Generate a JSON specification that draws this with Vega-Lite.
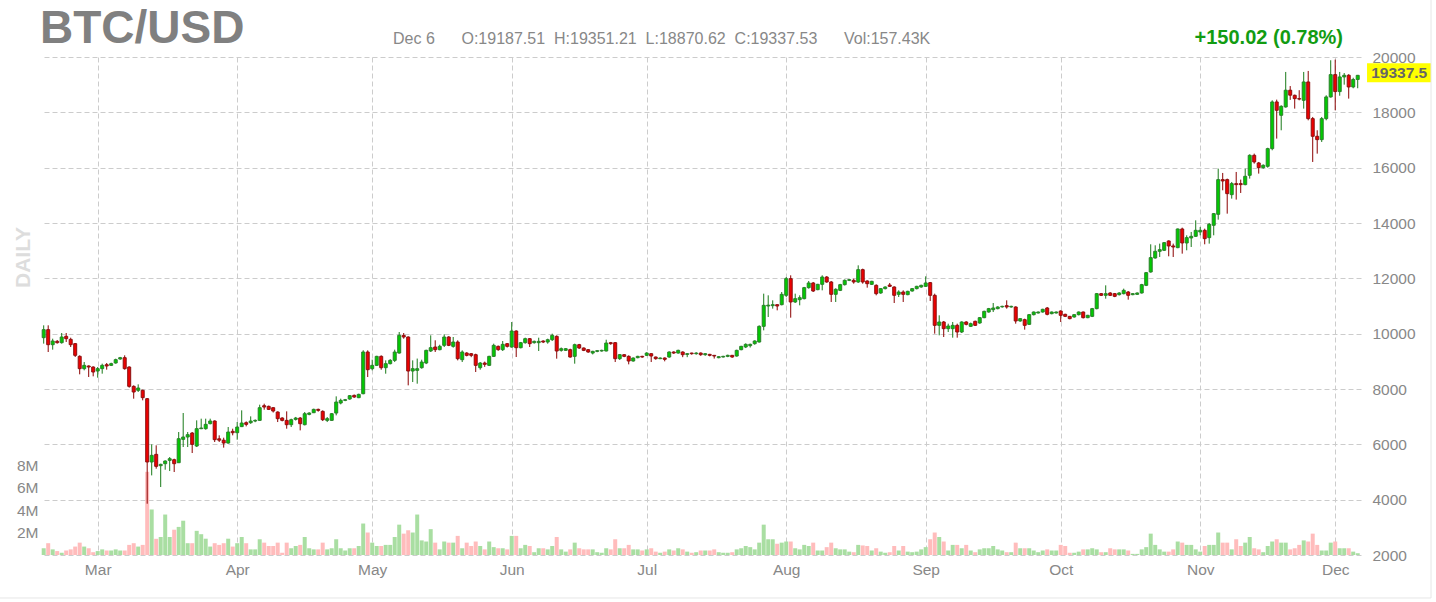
{
"$schema": "https://vega.github.io/schema/vega-lite/v6.json",
"width": 1319, "height": 498,
"autosize": {"type": "none"},
"padding": {"left": 42, "top": 57, "right": 75, "bottom": 47},
"background": "white",
"config": {"view": {"stroke": null}, "font": "Liberation Sans",
  "axis": {"domain": false, "ticks": false, "labelColor": "#888888", "labelFontSize": 15.5, "labelFont": "Liberation Sans", "gridColor": "#cccccc", "gridDash": [5, 3], "gridWidth": 1}},
"data": {"values": [
{"d":"2020-02-18","o":9855,"h":10301,"l":9639,"c":10145,"v":0.6},
{"d":"2020-02-19","o":10145,"h":10301,"l":9337,"c":9602,"v":1.05},
{"d":"2020-02-20","o":9602,"h":9819,"l":9422,"c":9735,"v":0.5},
{"d":"2020-02-21","o":9723,"h":9770,"l":9640,"c":9675,"v":0.35},
{"d":"2020-02-22","o":9675,"h":10024,"l":9639,"c":9880,"v":0.2},
{"d":"2020-02-23","o":9904,"h":10024,"l":9699,"c":9819,"v":0.4},
{"d":"2020-02-24","o":9795,"h":9855,"l":9518,"c":9602,"v":0.5},
{"d":"2020-02-25","o":9639,"h":9663,"l":9157,"c":9217,"v":0.75},
{"d":"2020-02-26","o":9181,"h":9217,"l":8530,"c":8735,"v":1.1},
{"d":"2020-02-27","o":8735,"h":8976,"l":8675,"c":8855,"v":0.75},
{"d":"2020-02-28","o":8831,"h":8855,"l":8434,"c":8795,"v":0.6},
{"d":"2020-02-29","o":8795,"h":8819,"l":8458,"c":8614,"v":0.25},
{"d":"2020-03-01","o":8650,"h":8795,"l":8410,"c":8735,"v":0.35},
{"d":"2020-03-02","o":8735,"h":8916,"l":8554,"c":8855,"v":0.5},
{"d":"2020-03-03","o":8879,"h":8940,"l":8699,"c":8831,"v":0.4},
{"d":"2020-03-04","o":8855,"h":8950,"l":8830,"c":8916,"v":0.4},
{"d":"2020-03-05","o":8940,"h":9096,"l":8916,"c":9060,"v":0.5},
{"d":"2020-03-06","o":9084,"h":9160,"l":9060,"c":9132,"v":0.4},
{"d":"2020-03-07","o":9132,"h":9217,"l":8699,"c":8735,"v":0.4},
{"d":"2020-03-08","o":8795,"h":8819,"l":8048,"c":8096,"v":0.9},
{"d":"2020-03-09","o":8096,"h":8132,"l":7650,"c":7892,"v":1.05},
{"d":"2020-03-10","o":7952,"h":8168,"l":7892,"c":8036,"v":0.75},
{"d":"2020-03-11","o":7952,"h":7976,"l":7590,"c":7687,"v":0.9},
{"d":"2020-03-12","o":7650,"h":7674,"l":3854,"c":5361,"v":7.4},
{"d":"2020-03-13","o":5361,"h":5999,"l":4878,"c":5602,"v":4.05},
{"d":"2020-03-14","o":5638,"h":5963,"l":5120,"c":5204,"v":1.44},
{"d":"2020-03-15","o":5228,"h":5300,"l":4457,"c":5276,"v":1.6},
{"d":"2020-03-16","o":5300,"h":5421,"l":5083,"c":5397,"v":3.6},
{"d":"2020-03-17","o":5421,"h":5541,"l":5035,"c":5481,"v":1.6},
{"d":"2020-03-18","o":5445,"h":5481,"l":4999,"c":5300,"v":2.25},
{"d":"2020-03-19","o":5336,"h":6445,"l":5336,"c":6204,"v":2.5},
{"d":"2020-03-20","o":6180,"h":7132,"l":5903,"c":6265,"v":3.05},
{"d":"2020-03-21","o":6265,"h":6445,"l":5903,"c":6349,"v":1.05},
{"d":"2020-03-22","o":6409,"h":6445,"l":5686,"c":5999,"v":1.05},
{"d":"2020-03-23","o":5939,"h":6867,"l":5903,"c":6566,"v":2.15},
{"d":"2020-03-24","o":6566,"h":6927,"l":6550,"c":6590,"v":1.85},
{"d":"2020-03-25","o":6566,"h":6927,"l":6530,"c":6722,"v":1.45},
{"d":"2020-03-26","o":6747,"h":6927,"l":6722,"c":6843,"v":0.75},
{"d":"2020-03-27","o":6843,"h":6867,"l":6084,"c":6168,"v":1.05},
{"d":"2020-03-28","o":6200,"h":6325,"l":6084,"c":6150,"v":0.9},
{"d":"2020-03-29","o":6150,"h":6240,"l":5880,"c":6047,"v":1.05},
{"d":"2020-03-30","o":6047,"h":6626,"l":6023,"c":6445,"v":1.45},
{"d":"2020-03-31","o":6470,"h":6566,"l":6325,"c":6420,"v":0.75},
{"d":"2020-04-01","o":6420,"h":6806,"l":6167,"c":6625,"v":1.05},
{"d":"2020-04-02","o":6640,"h":7228,"l":6625,"c":6770,"v":1.6},
{"d":"2020-04-03","o":6782,"h":6830,"l":6650,"c":6722,"v":1.05},
{"d":"2020-04-04","o":6782,"h":7011,"l":6740,"c":6842,"v":0.5},
{"d":"2020-04-05","o":6842,"h":6900,"l":6800,"c":6866,"v":0.5},
{"d":"2020-04-06","o":6866,"h":7433,"l":6850,"c":7324,"v":1.4},
{"d":"2020-04-07","o":7396,"h":7469,"l":7252,"c":7348,"v":1.1},
{"d":"2020-04-08","o":7372,"h":7400,"l":7240,"c":7264,"v":0.8},
{"d":"2020-04-09","o":7324,"h":7340,"l":7150,"c":7204,"v":0.8},
{"d":"2020-04-10","o":7168,"h":7192,"l":6806,"c":6927,"v":1.1},
{"d":"2020-04-11","o":6951,"h":6980,"l":6830,"c":6866,"v":0.2},
{"d":"2020-04-12","o":6866,"h":7192,"l":6565,"c":6710,"v":1.1},
{"d":"2020-04-13","o":6710,"h":6927,"l":6625,"c":6890,"v":0.6},
{"d":"2020-04-14","o":6902,"h":6990,"l":6860,"c":6951,"v":0.8},
{"d":"2020-04-15","o":6951,"h":6987,"l":6505,"c":6746,"v":0.9},
{"d":"2020-04-16","o":6710,"h":7168,"l":6685,"c":7107,"v":1.6},
{"d":"2020-04-17","o":7083,"h":7160,"l":7050,"c":7131,"v":0.6},
{"d":"2020-04-18","o":7143,"h":7288,"l":7131,"c":7264,"v":0.5},
{"d":"2020-04-19","o":7264,"h":7290,"l":7180,"c":7228,"v":0.5},
{"d":"2020-04-20","o":7192,"h":7228,"l":6842,"c":6890,"v":1.1},
{"d":"2020-04-21","o":6866,"h":6987,"l":6806,"c":6927,"v":0.5},
{"d":"2020-04-22","o":6866,"h":7130,"l":6850,"c":7107,"v":0.6},
{"d":"2020-04-23","o":7131,"h":7734,"l":7047,"c":7529,"v":1.4},
{"d":"2020-04-24","o":7493,"h":7650,"l":7445,"c":7589,"v":0.6},
{"d":"2020-04-25","o":7589,"h":7640,"l":7560,"c":7613,"v":0.4},
{"d":"2020-04-26","o":7638,"h":7780,"l":7610,"c":7758,"v":0.6},
{"d":"2020-04-27","o":7770,"h":7800,"l":7680,"c":7710,"v":0.6},
{"d":"2020-04-28","o":7686,"h":7830,"l":7670,"c":7806,"v":0.8},
{"d":"2020-04-29","o":7830,"h":9400,"l":7810,"c":9337,"v":2.8},
{"d":"2020-04-30","o":9337,"h":9397,"l":8433,"c":8698,"v":2.0},
{"d":"2020-05-01","o":8734,"h":9059,"l":8674,"c":8855,"v":1.1},
{"d":"2020-05-02","o":8855,"h":9200,"l":8830,"c":9180,"v":0.8},
{"d":"2020-05-03","o":9180,"h":9216,"l":8698,"c":8770,"v":0.8},
{"d":"2020-05-04","o":8770,"h":9035,"l":8553,"c":8915,"v":0.9},
{"d":"2020-05-05","o":8915,"h":9080,"l":8890,"c":9035,"v":0.9},
{"d":"2020-05-06","o":9035,"h":9421,"l":8975,"c":9337,"v":1.6},
{"d":"2020-05-07","o":9300,"h":10060,"l":9280,"c":9939,"v":2.7},
{"d":"2020-05-08","o":9939,"h":10024,"l":9819,"c":9879,"v":1.9},
{"d":"2020-05-09","o":9879,"h":9903,"l":8132,"c":8650,"v":2.2},
{"d":"2020-05-10","o":8650,"h":9035,"l":8252,"c":8734,"v":2.0},
{"d":"2020-05-11","o":8674,"h":9100,"l":8192,"c":8734,"v":3.6},
{"d":"2020-05-12","o":8770,"h":9059,"l":8734,"c":8975,"v":1.3},
{"d":"2020-05-13","o":8939,"h":9420,"l":8900,"c":9397,"v":1.2},
{"d":"2020-05-14","o":9373,"h":9939,"l":9337,"c":9493,"v":2.3},
{"d":"2020-05-15","o":9517,"h":9760,"l":9337,"c":9421,"v":1.1},
{"d":"2020-05-16","o":9421,"h":9600,"l":9400,"c":9542,"v":0.5},
{"d":"2020-05-17","o":9578,"h":9975,"l":9517,"c":9879,"v":1.2},
{"d":"2020-05-18","o":9879,"h":9910,"l":9550,"c":9578,"v":1.1},
{"d":"2020-05-19","o":9542,"h":9879,"l":9493,"c":9698,"v":1.1},
{"d":"2020-05-20","o":9698,"h":9758,"l":9035,"c":9096,"v":1.7},
{"d":"2020-05-21","o":9059,"h":9397,"l":8975,"c":9337,"v":0.6},
{"d":"2020-05-22","o":9300,"h":9330,"l":9180,"c":9216,"v":1.1},
{"d":"2020-05-23","o":9276,"h":9300,"l":9150,"c":9216,"v":0.8},
{"d":"2020-05-24","o":9240,"h":9276,"l":8614,"c":8855,"v":1.2},
{"d":"2020-05-25","o":8770,"h":8975,"l":8698,"c":8939,"v":0.8},
{"d":"2020-05-26","o":8939,"h":8990,"l":8800,"c":8891,"v":0.5},
{"d":"2020-05-27","o":8855,"h":9200,"l":8830,"c":9180,"v":1.2},
{"d":"2020-05-28","o":9180,"h":9638,"l":9156,"c":9578,"v":0.7},
{"d":"2020-05-29","o":9542,"h":9570,"l":9380,"c":9421,"v":0.6},
{"d":"2020-05-30","o":9421,"h":9734,"l":9373,"c":9614,"v":0.6},
{"d":"2020-05-31","o":9638,"h":9660,"l":9500,"c":9542,"v":0.5},
{"d":"2020-06-01","o":9517,"h":10421,"l":9493,"c":10096,"v":1.7},
{"d":"2020-06-02","o":10096,"h":10120,"l":9156,"c":9493,"v":1.7},
{"d":"2020-06-03","o":9493,"h":9700,"l":9470,"c":9674,"v":0.6},
{"d":"2020-06-04","o":9674,"h":9855,"l":9638,"c":9819,"v":0.9},
{"d":"2020-06-05","o":9819,"h":9843,"l":9517,"c":9638,"v":0.8},
{"d":"2020-06-06","o":9674,"h":9750,"l":9640,"c":9722,"v":0.25},
{"d":"2020-06-07","o":9674,"h":9855,"l":9373,"c":9722,"v":0.6},
{"d":"2020-06-08","o":9734,"h":9760,"l":9660,"c":9698,"v":0.6},
{"d":"2020-06-09","o":9698,"h":9819,"l":9638,"c":9782,"v":0.5},
{"d":"2020-06-10","o":9782,"h":10000,"l":9734,"c":9939,"v":0.8},
{"d":"2020-06-11","o":9903,"h":9939,"l":9096,"c":9373,"v":1.6},
{"d":"2020-06-12","o":9397,"h":9500,"l":9350,"c":9457,"v":0.5},
{"d":"2020-06-13","o":9397,"h":9480,"l":9380,"c":9457,"v":0.3},
{"d":"2020-06-14","o":9421,"h":9457,"l":9132,"c":9156,"v":0.5},
{"d":"2020-06-15","o":9180,"h":9638,"l":8915,"c":9602,"v":1.1},
{"d":"2020-06-16","o":9602,"h":9630,"l":9450,"c":9481,"v":0.6},
{"d":"2020-06-17","o":9481,"h":9500,"l":9370,"c":9397,"v":0.5},
{"d":"2020-06-18","o":9421,"h":9440,"l":9310,"c":9337,"v":0.5},
{"d":"2020-06-19","o":9300,"h":9380,"l":9250,"c":9361,"v":0.5},
{"d":"2020-06-20","o":9361,"h":9400,"l":9330,"c":9385,"v":0.25},
{"d":"2020-06-21","o":9373,"h":9420,"l":9350,"c":9397,"v":0.2},
{"d":"2020-06-22","o":9373,"h":9782,"l":9360,"c":9662,"v":0.6},
{"d":"2020-06-23","o":9674,"h":9700,"l":9600,"c":9638,"v":0.5},
{"d":"2020-06-24","o":9674,"h":9698,"l":8975,"c":9096,"v":1.4},
{"d":"2020-06-25","o":9096,"h":9260,"l":9050,"c":9240,"v":0.6},
{"d":"2020-06-26","o":9240,"h":9260,"l":9150,"c":9180,"v":0.6},
{"d":"2020-06-27","o":9180,"h":9216,"l":8891,"c":9011,"v":0.9},
{"d":"2020-06-28","o":9011,"h":9140,"l":8990,"c":9120,"v":0.5},
{"d":"2020-06-29","o":9132,"h":9200,"l":9110,"c":9180,"v":0.5},
{"d":"2020-06-30","o":9180,"h":9200,"l":9130,"c":9156,"v":0.4},
{"d":"2020-07-01","o":9216,"h":9330,"l":9190,"c":9300,"v":0.5},
{"d":"2020-07-02","o":9276,"h":9290,"l":8975,"c":9192,"v":0.6},
{"d":"2020-07-03","o":9156,"h":9170,"l":9060,"c":9096,"v":0.3},
{"d":"2020-07-04","o":9096,"h":9140,"l":9080,"c":9120,"v":0.2},
{"d":"2020-07-05","o":9120,"h":9140,"l":9000,"c":9072,"v":0.3},
{"d":"2020-07-06","o":9156,"h":9360,"l":9130,"c":9337,"v":0.5},
{"d":"2020-07-07","o":9337,"h":9360,"l":9270,"c":9300,"v":0.4},
{"d":"2020-07-08","o":9300,"h":9420,"l":9280,"c":9397,"v":0.6},
{"d":"2020-07-09","o":9337,"h":9360,"l":9150,"c":9240,"v":0.5},
{"d":"2020-07-10","o":9250,"h":9300,"l":9150,"c":9276,"v":0.3},
{"d":"2020-07-11","o":9300,"h":9310,"l":9240,"c":9276,"v":0.2},
{"d":"2020-07-12","o":9276,"h":9330,"l":9240,"c":9300,"v":0.25},
{"d":"2020-07-13","o":9300,"h":9320,"l":9200,"c":9240,"v":0.4},
{"d":"2020-07-14","o":9240,"h":9300,"l":9200,"c":9276,"v":0.4},
{"d":"2020-07-15","o":9252,"h":9270,"l":9180,"c":9216,"v":0.4},
{"d":"2020-07-16","o":9216,"h":9230,"l":9100,"c":9192,"v":0.5},
{"d":"2020-07-17","o":9132,"h":9190,"l":9110,"c":9168,"v":0.25},
{"d":"2020-07-18","o":9156,"h":9200,"l":9140,"c":9180,"v":0.2},
{"d":"2020-07-19","o":9180,"h":9240,"l":9150,"c":9217,"v":0.2},
{"d":"2020-07-20","o":9217,"h":9230,"l":9130,"c":9156,"v":0.25},
{"d":"2020-07-21","o":9192,"h":9420,"l":9170,"c":9397,"v":0.5},
{"d":"2020-07-22","o":9421,"h":9560,"l":9400,"c":9542,"v":0.6},
{"d":"2020-07-23","o":9518,"h":9650,"l":9480,"c":9614,"v":0.8},
{"d":"2020-07-24","o":9566,"h":9640,"l":9500,"c":9614,"v":0.7},
{"d":"2020-07-25","o":9638,"h":9760,"l":9600,"c":9735,"v":0.5},
{"d":"2020-07-26","o":9698,"h":10300,"l":9680,"c":10265,"v":1.1},
{"d":"2020-07-27","o":10265,"h":11446,"l":10120,"c":11024,"v":2.7},
{"d":"2020-07-28","o":11000,"h":11386,"l":10602,"c":11030,"v":1.4},
{"d":"2020-07-29","o":11012,"h":11205,"l":10904,"c":11048,"v":1.4},
{"d":"2020-07-30","o":11048,"h":11060,"l":10843,"c":11000,"v":1.0},
{"d":"2020-07-31","o":11048,"h":11506,"l":11024,"c":11422,"v":1.1},
{"d":"2020-08-01","o":11386,"h":12048,"l":11325,"c":11988,"v":1.2},
{"d":"2020-08-02","o":11988,"h":12109,"l":10578,"c":11145,"v":1.2},
{"d":"2020-08-03","o":11145,"h":11446,"l":11108,"c":11265,"v":0.6},
{"d":"2020-08-04","o":11229,"h":11386,"l":11024,"c":11301,"v":0.5},
{"d":"2020-08-05","o":11265,"h":11690,"l":11240,"c":11663,"v":0.9},
{"d":"2020-08-06","o":11663,"h":11904,"l":11627,"c":11832,"v":0.8},
{"d":"2020-08-07","o":11832,"h":11868,"l":11506,"c":11542,"v":1.1},
{"d":"2020-08-08","o":11591,"h":11800,"l":11570,"c":11783,"v":0.4},
{"d":"2020-08-09","o":11783,"h":12109,"l":11566,"c":12048,"v":0.4},
{"d":"2020-08-10","o":12048,"h":12080,"l":11840,"c":11868,"v":0.7},
{"d":"2020-08-11","o":11868,"h":11904,"l":11145,"c":11422,"v":1.1},
{"d":"2020-08-12","o":11422,"h":11640,"l":11145,"c":11603,"v":0.6},
{"d":"2020-08-13","o":11566,"h":11800,"l":11540,"c":11771,"v":0.5},
{"d":"2020-08-14","o":11771,"h":11960,"l":11740,"c":11928,"v":0.5},
{"d":"2020-08-15","o":11928,"h":11980,"l":11900,"c":11952,"v":0.3},
{"d":"2020-08-16","o":11928,"h":11988,"l":11807,"c":11868,"v":0.25},
{"d":"2020-08-17","o":11868,"h":12470,"l":11832,"c":12314,"v":0.9},
{"d":"2020-08-18","o":12314,"h":12350,"l":11807,"c":11868,"v":0.85},
{"d":"2020-08-19","o":11904,"h":11928,"l":11663,"c":11807,"v":0.8},
{"d":"2020-08-20","o":11783,"h":11910,"l":11760,"c":11892,"v":0.4},
{"d":"2020-08-21","o":11747,"h":11783,"l":11386,"c":11446,"v":0.6},
{"d":"2020-08-22","o":11470,"h":11650,"l":11440,"c":11627,"v":0.3},
{"d":"2020-08-23","o":11627,"h":11710,"l":11600,"c":11687,"v":0.2},
{"d":"2020-08-24","o":11759,"h":11832,"l":11687,"c":11711,"v":0.25},
{"d":"2020-08-25","o":11687,"h":11711,"l":11108,"c":11386,"v":0.8},
{"d":"2020-08-26","o":11422,"h":11566,"l":11325,"c":11506,"v":0.4},
{"d":"2020-08-27","o":11506,"h":11566,"l":11145,"c":11422,"v":0.8},
{"d":"2020-08-28","o":11410,"h":11550,"l":11390,"c":11530,"v":0.3},
{"d":"2020-08-29","o":11542,"h":11650,"l":11520,"c":11627,"v":0.25},
{"d":"2020-08-30","o":11627,"h":11730,"l":11600,"c":11711,"v":0.3},
{"d":"2020-08-31","o":11687,"h":11770,"l":11660,"c":11747,"v":0.5},
{"d":"2020-09-01","o":11711,"h":12073,"l":11690,"c":11832,"v":0.7},
{"d":"2020-09-02","o":11844,"h":11868,"l":11181,"c":11386,"v":1.4},
{"d":"2020-09-03","o":11386,"h":11446,"l":10000,"c":10301,"v":2.0},
{"d":"2020-09-04","o":10301,"h":10663,"l":9940,"c":10422,"v":1.6},
{"d":"2020-09-05","o":10422,"h":10458,"l":9880,"c":10181,"v":1.2},
{"d":"2020-09-06","o":10181,"h":10361,"l":10060,"c":10277,"v":0.4},
{"d":"2020-09-07","o":10181,"h":10422,"l":9855,"c":10301,"v":0.9},
{"d":"2020-09-08","o":10301,"h":10361,"l":9855,"c":10060,"v":0.9},
{"d":"2020-09-09","o":10060,"h":10446,"l":10024,"c":10422,"v":0.6},
{"d":"2020-09-10","o":10422,"h":10450,"l":10300,"c":10337,"v":0.9},
{"d":"2020-09-11","o":10265,"h":10400,"l":10240,"c":10361,"v":0.4},
{"d":"2020-09-12","o":10446,"h":10470,"l":10280,"c":10301,"v":0.25},
{"d":"2020-09-13","o":10385,"h":10600,"l":10360,"c":10578,"v":0.5},
{"d":"2020-09-14","o":10578,"h":10830,"l":10560,"c":10807,"v":0.6},
{"d":"2020-09-15","o":10783,"h":10930,"l":10760,"c":10904,"v":0.6},
{"d":"2020-09-16","o":10867,"h":11108,"l":10783,"c":10928,"v":0.8},
{"d":"2020-09-17","o":10904,"h":10990,"l":10880,"c":10964,"v":0.5},
{"d":"2020-09-18","o":10970,"h":11010,"l":10940,"c":10988,"v":0.4},
{"d":"2020-09-19","o":11012,"h":11205,"l":10904,"c":10964,"v":0.25},
{"d":"2020-09-20","o":10964,"h":11010,"l":10940,"c":10988,"v":0.25},
{"d":"2020-09-21","o":10964,"h":10988,"l":10361,"c":10458,"v":1.1},
{"d":"2020-09-22","o":10458,"h":10560,"l":10430,"c":10542,"v":0.6},
{"d":"2020-09-23","o":10506,"h":10542,"l":10145,"c":10301,"v":0.6},
{"d":"2020-09-24","o":10337,"h":10710,"l":10320,"c":10687,"v":0.6},
{"d":"2020-09-25","o":10687,"h":10800,"l":10660,"c":10783,"v":0.4},
{"d":"2020-09-26","o":10747,"h":10800,"l":10730,"c":10783,"v":0.25},
{"d":"2020-09-27","o":10783,"h":10900,"l":10760,"c":10880,"v":0.4},
{"d":"2020-09-28","o":10928,"h":10964,"l":10663,"c":10699,"v":0.5},
{"d":"2020-09-29","o":10723,"h":10800,"l":10700,"c":10783,"v":0.4},
{"d":"2020-09-30","o":10747,"h":10800,"l":10730,"c":10783,"v":0.4},
{"d":"2020-10-01","o":10819,"h":10843,"l":10422,"c":10663,"v":0.9},
{"d":"2020-10-02","o":10699,"h":10720,"l":10600,"c":10626,"v":0.8},
{"d":"2020-10-03","o":10626,"h":10640,"l":10520,"c":10542,"v":0.2},
{"d":"2020-10-04","o":10602,"h":10700,"l":10580,"c":10687,"v":0.2},
{"d":"2020-10-05","o":10687,"h":10800,"l":10660,"c":10783,"v":0.3},
{"d":"2020-10-06","o":10783,"h":10800,"l":10550,"c":10578,"v":0.5},
{"d":"2020-10-07","o":10578,"h":10680,"l":10560,"c":10663,"v":0.5},
{"d":"2020-10-08","o":10626,"h":10930,"l":10600,"c":10904,"v":0.6},
{"d":"2020-10-09","o":10904,"h":11470,"l":10880,"c":11446,"v":0.5},
{"d":"2020-10-10","o":11446,"h":11470,"l":11360,"c":11386,"v":0.25},
{"d":"2020-10-11","o":11386,"h":11747,"l":11265,"c":11446,"v":0.25},
{"d":"2020-10-12","o":11470,"h":11500,"l":11360,"c":11386,"v":0.6},
{"d":"2020-10-13","o":11446,"h":11470,"l":11320,"c":11350,"v":0.5},
{"d":"2020-10-14","o":11410,"h":11500,"l":11380,"c":11470,"v":0.5},
{"d":"2020-10-15","o":11446,"h":11627,"l":11420,"c":11566,"v":0.5},
{"d":"2020-10-16","o":11506,"h":11540,"l":11229,"c":11386,"v":0.4},
{"d":"2020-10-17","o":11410,"h":11460,"l":11390,"c":11446,"v":0.1},
{"d":"2020-10-18","o":11422,"h":11490,"l":11400,"c":11470,"v":0.1},
{"d":"2020-10-19","o":11471,"h":11800,"l":11450,"c":11772,"v":0.5},
{"d":"2020-10-20","o":11747,"h":12230,"l":11720,"c":12205,"v":0.7},
{"d":"2020-10-21","o":12229,"h":13230,"l":12205,"c":12748,"v":1.9},
{"d":"2020-10-22","o":12735,"h":13194,"l":12711,"c":12977,"v":0.9},
{"d":"2020-10-23","o":12977,"h":13254,"l":12772,"c":13037,"v":0.5},
{"d":"2020-10-24","o":13013,"h":13310,"l":12990,"c":13290,"v":0.3},
{"d":"2020-10-25","o":13350,"h":13374,"l":12796,"c":13170,"v":0.3},
{"d":"2020-10-26","o":13170,"h":13254,"l":12772,"c":13133,"v":0.5},
{"d":"2020-10-27","o":13109,"h":13800,"l":13090,"c":13784,"v":1.2},
{"d":"2020-10-28","o":13784,"h":13832,"l":12892,"c":13278,"v":1.1},
{"d":"2020-10-29","o":13278,"h":13555,"l":13013,"c":13471,"v":0.9},
{"d":"2020-10-30","o":13459,"h":13676,"l":13133,"c":13519,"v":0.9},
{"d":"2020-10-31","o":13519,"h":14097,"l":13500,"c":13736,"v":0.5},
{"d":"2020-11-01","o":13676,"h":13856,"l":13555,"c":13736,"v":0.3},
{"d":"2020-11-02","o":13736,"h":13796,"l":13230,"c":13434,"v":0.8},
{"d":"2020-11-03","o":13471,"h":14001,"l":13254,"c":13953,"v":0.9},
{"d":"2020-11-04","o":13917,"h":14362,"l":13555,"c":14338,"v":0.9},
{"d":"2020-11-05","o":14314,"h":15965,"l":14121,"c":15568,"v":2.0},
{"d":"2020-11-06","o":15568,"h":15809,"l":15182,"c":15519,"v":1.1},
{"d":"2020-11-07","o":15568,"h":15604,"l":14338,"c":15061,"v":1.1},
{"d":"2020-11-08","o":15025,"h":15483,"l":14881,"c":15423,"v":0.5},
{"d":"2020-11-09","o":15423,"h":15845,"l":14845,"c":15387,"v":1.4},
{"d":"2020-11-10","o":15423,"h":15568,"l":15085,"c":15387,"v":0.8},
{"d":"2020-11-11","o":15387,"h":15965,"l":15363,"c":15688,"v":1.1},
{"d":"2020-11-12","o":15724,"h":16483,"l":15604,"c":16447,"v":1.6},
{"d":"2020-11-13","o":16447,"h":16508,"l":16146,"c":16206,"v":0.6},
{"d":"2020-11-14","o":16170,"h":16206,"l":15785,"c":16001,"v":0.5},
{"d":"2020-11-15","o":16001,"h":16120,"l":15960,"c":16086,"v":0.25},
{"d":"2020-11-16","o":16049,"h":16720,"l":16000,"c":16688,"v":0.8},
{"d":"2020-11-17","o":16688,"h":18435,"l":16628,"c":18375,"v":1.2},
{"d":"2020-11-18","o":18375,"h":18459,"l":17050,"c":18074,"v":1.4},
{"d":"2020-11-19","o":17893,"h":18255,"l":17351,"c":18218,"v":1.1},
{"d":"2020-11-20","o":18194,"h":19460,"l":18170,"c":18800,"v":1.1},
{"d":"2020-11-21","o":18800,"h":18950,"l":18450,"c":18620,"v":0.5},
{"d":"2020-11-22","o":18616,"h":18640,"l":18134,"c":18496,"v":0.6},
{"d":"2020-11-23","o":18496,"h":18800,"l":18435,"c":18480,"v":0.9},
{"d":"2020-11-24","o":18435,"h":19460,"l":18134,"c":19098,"v":1.3},
{"d":"2020-11-25","o":19098,"h":19496,"l":17712,"c":17772,"v":1.2},
{"d":"2020-11-26","o":17772,"h":17833,"l":16206,"c":17134,"v":1.9},
{"d":"2020-11-27","o":17134,"h":17351,"l":16507,"c":17013,"v":0.9},
{"d":"2020-11-28","o":17013,"h":17833,"l":16929,"c":17772,"v":0.4},
{"d":"2020-11-29","o":17772,"h":18616,"l":17712,"c":18556,"v":0.4},
{"d":"2020-11-30","o":18556,"h":19882,"l":18532,"c":19363,"v":1.1},
{"d":"2020-12-01","o":19363,"h":19906,"l":18074,"c":18750,"v":1.2},
{"d":"2020-12-02","o":18750,"h":19460,"l":18600,"c":19279,"v":0.6},
{"d":"2020-12-03","o":19279,"h":19420,"l":19000,"c":19340,"v":0.6},
{"d":"2020-12-04","o":19340,"h":19380,"l":18496,"c":18917,"v":0.6},
{"d":"2020-12-05","o":18917,"h":19250,"l":18870,"c":19187.51,"v":0.3},
{"d":"2020-12-06","o":19187.51,"h":19351.21,"l":18870.62,"c":19337.53,"v":0.157}
]},
"layer": [
  {
    "mark": {"type": "bar", "size": 4},
    "encoding": {
      "x": {"field": "d", "type": "temporal", "title": null,
        "scale": {"type": "utc", "nice": false, "padding": 0, "domain": [{"year":2020,"month":"feb","date":17,"hours":14,"minutes":56,"utc":true},{"year":2020,"month":"dec","date":6,"hours":17,"minutes":31,"utc":true}]},
        "axis": {"format": "%b", "labelPadding": 7, "grid": true, "labelFlush": false, "labelOverlap": false,
          "values": [{"year":2020,"month":"mar","date":1,"utc":true},{"year":2020,"month":"apr","date":1,"utc":true},{"year":2020,"month":"may","date":1,"utc":true},{"year":2020,"month":"jun","date":1,"utc":true},{"year":2020,"month":"jul","date":1,"utc":true},{"year":2020,"month":"aug","date":1,"utc":true},{"year":2020,"month":"sep","date":1,"utc":true},{"year":2020,"month":"oct","date":1,"utc":true},{"year":2020,"month":"nov","date":1,"utc":true},{"year":2020,"month":"dec","date":1,"utc":true}]}},
      "y": {"field": "v", "type": "quantitative",
        "scale": {"domain": [0, 44.3], "nice": false, "zero": true},
        "axis": {"orient": "left", "values": [2, 4, 6, 8], "labelExpr": "datum.value + 'M'", "grid": false, "labelPadding": 4,
          "title": "DAILY", "titleColor": "#dddddd", "titleFontSize": 21, "titleFontWeight": "bold", "titleAngle": -90, "titleX": -19, "titleY": 200, "titleAlign": "center", "titleBaseline": "middle"}},
      "color": {"condition": {"test": "datum.c >= datum.o", "value": "#a9dea2"}, "value": "#ffbcbc"}
    }
  },
  {
    "layer": [
      {
        "mark": {"type": "rule", "strokeWidth": 1},
        "encoding": {
          "x": {"field": "d", "type": "temporal", "title": null,
            "scale": {"type": "utc", "nice": false, "padding": 0, "domain": [{"year":2020,"month":"feb","date":17,"hours":14,"minutes":56,"utc":true},{"year":2020,"month":"dec","date":6,"hours":17,"minutes":31,"utc":true}]}},
          "y": {"field": "l", "type": "quantitative", "title": null,
            "scale": {"domain": [2000, 20000], "nice": false, "zero": false},
            "axis": {"orient": "right", "values": [2000,4000,6000,8000,10000,12000,14000,16000,18000,20000], "format": "d", "grid": true, "labelPadding": 11}},
          "y2": {"field": "h"},
          "color": {"condition": {"test": "datum.c >= datum.o", "value": "#1a7a1a"}, "value": "#8b0000"}
        }
      },
      {
        "mark": {"type": "bar", "size": 3, "strokeWidth": 1},
        "encoding": {
          "x": {"field": "d", "type": "temporal", "title": null,
            "scale": {"type": "utc", "nice": false, "padding": 0, "domain": [{"year":2020,"month":"feb","date":17,"hours":14,"minutes":56,"utc":true},{"year":2020,"month":"dec","date":6,"hours":17,"minutes":31,"utc":true}]}},
          "y": {"field": "o", "type": "quantitative", "title": null,
            "scale": {"domain": [2000, 20000], "nice": false, "zero": false}},
          "y2": {"field": "c"},
          "fill": {"condition": {"test": "datum.c >= datum.o", "value": "#00cc00"}, "value": "#ee0000"},
          "stroke": {"condition": {"test": "datum.c >= datum.o", "value": "#2a7f2a"}, "value": "#8b1010"}
        }
      },
      {
        "data": {"values": [{}]},
        "mark": {"type": "text", "text": "BTC/USD", "align": "left", "baseline": "alphabetic", "fontSize": 46, "fontWeight": "bold", "color": "#808080", "font": "Liberation Sans", "clip": false, "dx": -2},
        "encoding": {
          "x": {"datum": {"year":2020,"month":"feb","date":17,"hours":14,"minutes":56,"utc":true}, "type": "temporal", "title": null,
            "scale": {"type": "utc", "nice": false, "padding": 0, "domain": [{"year":2020,"month":"feb","date":17,"hours":14,"minutes":56,"utc":true},{"year":2020,"month":"dec","date":6,"hours":17,"minutes":31,"utc":true}]}},
          "y": {"datum": 20495, "type": "quantitative", "title": null, "scale": {"domain": [2000, 20000], "nice": false, "zero": false}}
        }
      },
      {
        "data": {"values": [{}]},
        "mark": {"type": "text", "text": "Dec 6\u00a0\u00a0\u00a0\u00a0\u00a0\u00a0O:19187.51\u00a0\u00a0H:19351.21\u00a0\u00a0L:18870.62\u00a0\u00a0C:19337.53\u00a0\u00a0\u00a0\u00a0\u00a0\u00a0Vol:157.43K", "align": "left", "baseline": "alphabetic", "fontSize": 16, "color": "#888888", "font": "Liberation Sans", "clip": false},
        "encoding": {
          "x": {"datum": {"year":2020,"month":"may","date":5,"hours":14,"minutes":53,"utc":true}, "type": "temporal", "title": null,
            "scale": {"type": "utc", "nice": false, "padding": 0, "domain": [{"year":2020,"month":"feb","date":17,"hours":14,"minutes":56,"utc":true},{"year":2020,"month":"dec","date":6,"hours":17,"minutes":31,"utc":true}]}},
          "y": {"datum": 20459, "type": "quantitative", "title": null, "scale": {"domain": [2000, 20000], "nice": false, "zero": false}}
        }
      },
      {
        "data": {"values": [{}]},
        "mark": {"type": "text", "text": "+150.02 (0.78%)", "align": "right", "baseline": "alphabetic", "fontSize": 20, "fontWeight": "bold", "color": "#129c12", "font": "Liberation Sans", "clip": false},
        "encoding": {
          "x": {"datum": {"year":2020,"month":"dec","date":2,"hours":17,"minutes":31,"utc":true}, "type": "temporal", "title": null,
            "scale": {"type": "utc", "nice": false, "padding": 0, "domain": [{"year":2020,"month":"feb","date":17,"hours":14,"minutes":56,"utc":true},{"year":2020,"month":"dec","date":6,"hours":17,"minutes":31,"utc":true}]}},
          "y": {"datum": 20459, "type": "quantitative", "title": null, "scale": {"domain": [2000, 20000], "nice": false, "zero": false}}
        }
      },
      {
        "data": {"values": [{}]},
        "mark": {"type": "rect", "color": "#ffff00", "clip": false},
        "encoding": {
          "x": {"datum": {"year":2020,"month":"dec","date":8,"hours":1,"minutes":40,"utc":true}, "type": "temporal", "title": null,
            "scale": {"type": "utc", "nice": false, "padding": 0, "domain": [{"year":2020,"month":"feb","date":17,"hours":14,"minutes":56,"utc":true},{"year":2020,"month":"dec","date":6,"hours":17,"minutes":31,"utc":true}]}},
          "x2": {"datum": {"year":2020,"month":"dec","date":22,"hours":7,"utc":true}},
          "y": {"datum": 19086, "type": "quantitative", "title": null, "scale": {"domain": [2000, 20000], "nice": false, "zero": false}},
          "y2": {"datum": 19772}
        }
      },
      {
        "data": {"values": [{}]},
        "mark": {"type": "text", "text": "19337.5", "align": "left", "baseline": "middle", "fontSize": 15.5, "fontWeight": "bold", "color": "#666666", "font": "Liberation Sans", "clip": false},
        "encoding": {
          "x": {"datum": {"year":2020,"month":"dec","date":9,"utc":true}, "type": "temporal", "title": null,
            "scale": {"type": "utc", "nice": false, "padding": 0, "domain": [{"year":2020,"month":"feb","date":17,"hours":14,"minutes":56,"utc":true},{"year":2020,"month":"dec","date":6,"hours":17,"minutes":31,"utc":true}]}},
          "y": {"datum": 19429, "type": "quantitative", "title": null, "scale": {"domain": [2000, 20000], "nice": false, "zero": false}}
        }
      },
      {
        "data": {"values": [{}]},
        "mark": {"type": "rect", "filled": false, "stroke": "#e6e6e6", "strokeWidth": 1, "clip": false},
        "encoding": {
          "x": {"datum": {"year":2020,"month":"feb","date":8,"hours":1,"minutes":40,"utc":true}, "type": "temporal", "title": null,
            "scale": {"type": "utc", "nice": false, "padding": 0, "domain": [{"year":2020,"month":"feb","date":17,"hours":14,"minutes":56,"utc":true},{"year":2020,"month":"dec","date":6,"hours":17,"minutes":31,"utc":true}]}},
          "x2": {"datum": {"year":2020,"month":"dec","date":22,"hours":7,"utc":true}},
          "y": {"datum": 446, "type": "quantitative", "title": null, "scale": {"domain": [2000, 20000], "nice": false, "zero": false}},
          "y2": {"datum": 22096}
        }
      }
    ]
  }
],
"resolve": {"scale": {"y": "independent"}, "axis": {"y": "independent"}}
}
